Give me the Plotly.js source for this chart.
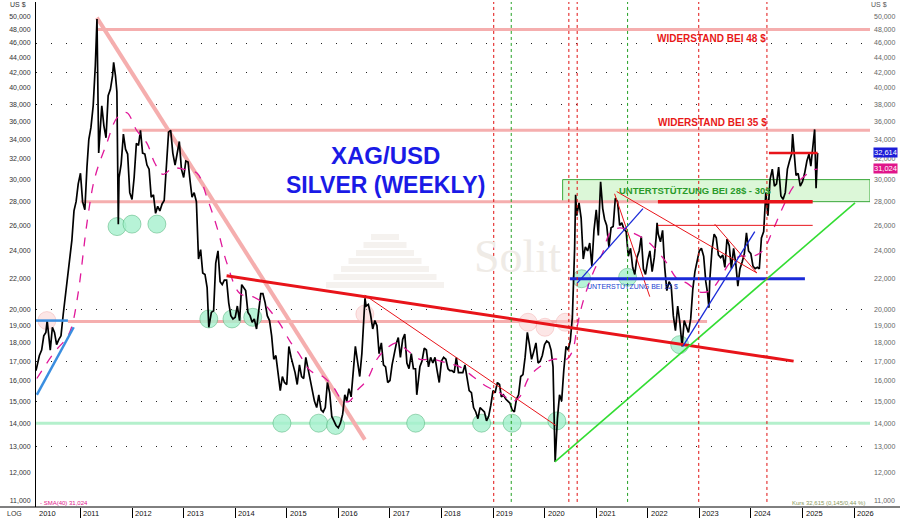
<!DOCTYPE html>
<html><head><meta charset="utf-8">
<script src="https://cdn.plot.ly/plotly-3.0.1.min.js"></script>
<style>html,body{margin:0;padding:0;background:#fff}#chart{width:900px;height:518px}</style>
</head><body><div id="chart"></div>
<script>
// ---- weekly silver price (semi-monthly) ----
const priceDates = [
'2010-02-20','2010-03-01','2010-03-16','2010-04-01','2010-04-16','2010-05-01','2010-05-10','2010-06-01','2010-06-16','2010-07-01','2010-07-16','2010-08-01','2010-08-16','2010-09-01','2010-09-16','2010-10-01','2010-10-16','2010-11-01','2010-11-16','2010-12-01','2010-12-16',
'2011-01-01','2011-01-16','2011-02-01','2011-02-16','2011-03-01','2011-03-16','2011-04-01','2011-04-16','2011-04-28','2011-05-10','2011-05-20','2011-06-01','2011-06-16','2011-07-01','2011-07-16','2011-08-01','2011-08-16','2011-08-24','2011-09-06','2011-09-16','2011-09-26','2011-10-01','2011-10-16','2011-11-01','2011-11-16','2011-12-01','2011-12-16',
'2012-01-01','2012-01-16','2012-02-01','2012-02-16','2012-03-01','2012-03-16','2012-04-01','2012-04-16','2012-05-01','2012-05-16','2012-06-01','2012-06-16','2012-07-01','2012-07-16','2012-08-01','2012-08-16','2012-09-01','2012-09-16','2012-10-01','2012-10-16','2012-11-01','2012-11-16','2012-12-01','2012-12-16',
'2013-01-01','2013-01-16','2013-02-01','2013-02-16','2013-03-01','2013-03-16','2013-04-01','2013-04-16','2013-05-01','2013-05-16','2013-06-01','2013-06-16','2013-06-28','2013-07-16','2013-08-01','2013-08-16','2013-09-01','2013-09-16','2013-10-01','2013-10-16','2013-11-01','2013-11-16','2013-12-01','2013-12-16',
'2014-01-01','2014-01-16','2014-02-01','2014-02-16','2014-03-01','2014-03-16','2014-04-01','2014-04-16','2014-05-01','2014-05-16','2014-06-01','2014-06-16','2014-07-01','2014-07-16','2014-08-01','2014-08-16','2014-09-01','2014-09-16','2014-10-01','2014-10-16','2014-11-01','2014-11-16','2014-12-01','2014-12-16',
'2015-01-01','2015-01-16','2015-02-01','2015-02-16','2015-03-01','2015-03-16','2015-04-01','2015-04-16','2015-05-01','2015-05-16','2015-06-01','2015-06-16','2015-07-01','2015-07-16','2015-08-01','2015-08-16','2015-09-01','2015-09-16','2015-10-01','2015-10-16','2015-11-01','2015-11-16','2015-12-01','2015-12-16',
'2016-01-01','2016-01-16','2016-02-01','2016-02-16','2016-03-01','2016-03-16','2016-04-01','2016-04-16','2016-05-01','2016-05-16','2016-06-01','2016-06-16','2016-07-01','2016-07-08','2016-07-16','2016-08-01','2016-08-16','2016-09-01','2016-09-16','2016-10-01','2016-10-16','2016-11-01','2016-11-16','2016-12-01','2016-12-16',
'2017-01-01','2017-01-16','2017-02-01','2017-02-16','2017-03-01','2017-03-16','2017-04-01','2017-04-16','2017-05-01','2017-05-16','2017-06-01','2017-06-16','2017-07-01','2017-07-10','2017-08-01','2017-08-16','2017-09-01','2017-09-16','2017-10-01','2017-10-16','2017-11-01','2017-11-16','2017-12-01','2017-12-16',
'2018-01-01','2018-01-16','2018-02-01','2018-02-16','2018-03-01','2018-03-16','2018-04-01','2018-04-16','2018-05-01','2018-05-16','2018-06-01','2018-06-16','2018-07-01','2018-07-16','2018-08-01','2018-08-16','2018-09-01','2018-09-16','2018-10-01','2018-10-16','2018-11-01','2018-11-16','2018-12-01','2018-12-16',
'2019-01-01','2019-01-16','2019-02-01','2019-02-16','2019-03-01','2019-03-16','2019-04-01','2019-04-16','2019-05-01','2019-05-16','2019-06-01','2019-06-16','2019-07-01','2019-07-16','2019-08-01','2019-08-16','2019-09-01','2019-09-16','2019-10-01','2019-10-16','2019-11-01','2019-11-16','2019-12-01','2019-12-16',
'2020-01-01','2020-01-16','2020-02-01','2020-02-16','2020-03-01','2020-03-16','2020-04-01','2020-04-16','2020-05-01','2020-05-16','2020-06-01','2020-06-16','2020-07-01','2020-07-16','2020-08-01','2020-08-08','2020-08-16','2020-09-01','2020-09-16','2020-10-01','2020-10-16','2020-11-01','2020-11-16','2020-12-01','2020-12-16',
'2021-01-01','2021-01-16','2021-02-01','2021-02-16','2021-03-01','2021-03-16','2021-04-01','2021-04-16','2021-05-01','2021-05-16','2021-06-01','2021-06-16','2021-07-01','2021-07-16','2021-08-01','2021-08-16','2021-09-01','2021-09-16','2021-10-01','2021-10-16','2021-11-01','2021-11-16','2021-12-01','2021-12-16',
'2022-01-01','2022-01-16','2022-02-01','2022-02-16','2022-03-01','2022-03-08','2022-03-16','2022-04-01','2022-04-16','2022-05-01','2022-05-16','2022-06-01','2022-06-16','2022-07-01','2022-07-16','2022-08-01','2022-08-16','2022-09-01','2022-09-16','2022-10-01','2022-10-16','2022-11-01','2022-11-16','2022-12-01','2022-12-16',
'2023-01-01','2023-01-16','2023-02-01','2023-02-16','2023-03-01','2023-03-10','2023-03-16','2023-04-01','2023-04-16','2023-05-01','2023-05-16','2023-06-01','2023-06-16','2023-07-01','2023-07-16','2023-08-01','2023-08-16','2023-09-01','2023-09-16','2023-10-01','2023-10-16','2023-11-01','2023-11-16','2023-12-01','2023-12-16',
'2024-01-01','2024-01-16','2024-02-01','2024-02-16','2024-03-01','2024-03-16','2024-04-01','2024-04-16','2024-05-01','2024-05-16','2024-06-01','2024-06-16','2024-07-01','2024-07-16','2024-08-01','2024-08-16','2024-09-01','2024-09-16','2024-10-01','2024-10-16','2024-10-23','2024-11-01','2024-11-16','2024-12-01','2024-12-16',
'2025-01-01','2025-01-16','2025-02-01','2025-02-16','2025-03-01','2025-03-16','2025-03-28','2025-04-07','2025-04-18'
];
const priceValues = [
16.5,16.8,17.3,17.6,18.4,18.6,19.3,17.6,18.9,18.6,17.9,18.2,18.4,19.7,20.8,22.0,23.5,24.8,27.2,28.0,29.6,
30.6,28.0,27.3,31.2,34.0,35.3,37.8,42.8,49.6,32.6,35.2,37.8,35.5,34.2,39.0,39.8,41.5,43.3,41.5,39.5,26.1,30.2,31.5,34.6,33.0,32.5,28.8,
28.2,30.2,33.6,33.4,35.0,32.6,32.5,31.4,31.0,28.4,28.6,27.0,27.6,27.2,27.8,28.1,31.6,34.8,35.0,32.6,31.4,32.8,33.8,31.0,
30.2,31.8,31.7,29.8,28.4,28.8,28.0,23.4,24.1,22.4,22.3,21.4,18.9,19.8,19.9,23.1,24.0,21.8,21.6,21.9,21.9,20.4,19.6,19.4,
19.5,20.2,19.3,21.6,21.4,21.2,19.8,19.6,19.2,19.4,18.8,19.8,21.0,21.0,20.4,19.6,19.3,18.4,17.1,17.3,16.2,15.5,16.2,15.9,
15.8,17.8,17.2,16.8,16.4,15.8,16.8,16.2,16.1,17.2,16.6,16.0,15.6,15.0,14.7,15.3,14.6,14.5,14.7,15.9,15.4,14.3,14.1,13.9,
13.8,14.0,14.4,15.3,15.0,15.6,15.2,16.3,17.8,17.0,16.2,17.4,19.3,20.7,20.2,20.3,19.7,18.8,19.3,19.0,17.4,18.0,16.8,16.7,15.9,
16.0,16.8,17.5,18.0,18.3,17.2,18.2,18.5,16.9,16.6,17.4,16.6,16.6,15.3,16.7,17.0,17.7,17.6,16.7,17.2,16.9,17.2,16.5,15.9,
17.0,17.2,17.1,16.6,16.5,16.5,16.4,17.2,16.4,16.4,16.4,16.8,16.0,15.5,15.4,14.7,14.5,14.2,14.7,14.6,14.5,14.1,14.3,14.8,
15.5,15.4,15.9,15.8,15.2,15.3,15.1,15.0,14.9,14.6,14.5,15.1,15.3,16.2,16.3,17.2,18.6,17.9,17.1,17.5,18.0,16.9,17.0,17.3,
17.9,18.1,18.0,17.6,16.7,12.4,14.2,15.3,15.0,16.5,17.8,17.6,18.1,19.5,24.2,28.6,26.8,27.9,26.6,23.4,24.3,24.0,24.6,22.9,25.6,
27.3,25.2,29.8,27.4,26.5,26.0,24.3,25.8,25.9,28.3,28.0,26.0,26.2,25.7,25.5,23.6,24.2,22.8,22.3,23.5,24.0,25.1,22.7,22.3,
23.3,24.0,22.5,23.5,25.0,26.2,25.3,24.7,25.6,22.8,21.2,21.8,21.5,19.6,18.7,20.2,19.2,17.8,19.3,19.0,18.6,19.4,21.3,22.5,23.2,
24.0,24.2,23.6,21.8,21.0,20.1,21.9,24.1,25.3,25.0,23.7,23.5,23.7,22.8,24.9,24.4,22.7,24.2,23.1,21.5,22.7,23.2,23.8,25.4,24.0,
23.8,22.9,22.7,22.8,22.7,25.0,25.5,28.8,26.8,30.0,31.0,29.4,29.6,31.2,28.5,28.2,28.8,31.0,31.8,32.5,34.6,32.6,30.4,30.6,29.4,
29.8,30.6,31.8,32.5,31.3,33.8,35.1,29.2,32.6
];
// ---- 40-week moving average (magenta dashed) ----
const smaDates = ['2010-02-26','2010-07-02','2010-09-27','2010-10-30','2010-12-15','2011-02-21','2011-04-13','2011-07-06','2011-09-17','2011-11-24','2012-02-03','2012-04-16','2012-06-10','2012-08-07','2012-10-16','2012-12-28','2013-04-06','2013-06-14','2013-08-26','2013-11-03','2014-02-03','2014-05-05','2014-07-17','2014-09-24','2014-11-14','2015-01-23','2015-04-06','2015-05-23','2015-07-06','2015-09-13','2015-11-25','2016-02-03','2016-03-22','2016-05-12','2016-07-20','2016-10-01','2016-12-09','2017-02-21','2017-05-01','2017-07-31','2017-10-30','2018-02-09','2018-05-12','2018-08-11','2018-11-17','2019-02-17','2019-05-23','2019-07-09','2019-09-16','2019-11-28','2020-02-28','2020-06-06','2020-07-19','2020-08-18','2020-09-27','2020-12-09','2021-02-17','2021-04-09','2021-06-18','2021-09-17','2021-12-24','2022-03-08','2022-05-16','2022-07-28','2022-10-05','2023-01-04','2023-03-18','2023-05-27','2023-08-04','2023-10-16','2024-01-15','2024-03-24','2024-06-05','2024-08-14','2024-10-26','2025-01-04','2025-03-14','2025-04-18'];
const smaValues = [16.1,17.5,18.3,18.9,21.0,26.6,30.2,33.6,36.4,37.0,35.0,33.6,31.6,30.5,31.1,31.0,30.6,28.4,25.8,23.1,21.0,20.8,20.4,19.7,19.1,18.1,17.3,16.7,16.4,16.2,15.7,15.0,15.0,15.5,16.0,17.1,17.7,18.0,17.6,17.1,17.1,16.9,16.7,16.2,15.7,15.4,15.0,15.2,16.2,16.7,17.1,17.1,17.6,18.9,20.4,22.4,23.9,25.4,25.8,25.4,24.8,24.0,23.1,22.0,21.7,21.1,21.2,22.0,23.1,23.6,23.6,24.0,25.6,27.5,29.3,30.2,30.9,31.0];

// ---- horizontal levels ----
const resistance48 = [['2011-05-01',48],['2026-04-24',48]];
const resistance35 = [['2011-10-25',35],['2026-04-24',35]];
const pinkLevel28 = [['2011-01-01',28],['2022-03-14',28]];
const pinkLevel1925 = [['2010-10-04',19.25],['2023-02-25',19.25]];
const support14 = [['2010-02-20',14],['2026-04-24',14]];
const supportZone = [['2020-05-08',28],['2026-04-24',28],['2026-04-24',30],['2020-05-08',30],['2020-05-08',28]];
const redLevel28 = [['2022-03-14',28],['2025-03-14',28]];
const redLevel26 = [['2022-03-14',26],['2025-03-14',26]];
const redLevel326 = [['2024-05-08',32.6],['2025-04-18',32.6]];
const blueLevel22 = [['2020-06-28',22],['2025-01-18',22]];
const blueLevel2010 = [['2010-02-20',19.3],['2010-10-04',19.3]];
// ---- trend lines ----
const pinkDownTrend = [['2011-04-27',49.8],['2016-07-07',13.3]];
const redMainTrend = [['2013-11-01',22.2],['2024-10-30',17.0]];
const redTrend2016 = [['2016-07-07',20.9],['2020-03-21',13.9]];
const redTrend2021 = [['2021-05-26',28.9],['2024-02-13',22.4]];
const redSteep2021 = [['2021-05-11',28.7],['2022-01-15',20.8]];
const redTrend2023 = [['2023-04-20',26.1],['2024-02-13',22.4]];
const blueTrend2020 = [['2020-08-19',21.7],['2021-11-28',27.4]];
const blueTrend2022 = [['2022-09-06',17.8],['2024-01-29',25.5]];
const blueTrend2010 = [['2010-02-26',15.3],['2010-11-14',18.9]];
const greenUpTrend = [['2020-03-14',12.4],['2026-01-08',27.9]];
// ---- marked lows ----
const greenCircleDates = ['2011-09-17','2012-01-01','2012-06-25','2013-06-28','2013-12-09','2014-05-05','2014-11-28','2015-08-15','2015-12-13','2017-07-02','2018-10-12','2019-05-16','2020-03-28','2020-09-20','2021-08-11','2022-08-15'];
const greenCircleLevels = [25.9,26.1,26.1,19.4,19.4,19.5,14.0,14.0,13.9,14.0,14.0,14.0,14.1,22.0,22.1,17.9];
const pinkCircleDates = ['2010-05-08','2016-07-07','2019-09-06','2020-01-04','2020-05-26'];
const pinkCircleLevels = [19.3,19.7,19.2,18.9,19.2];
// ---- event markers (vertical dotted) ----
const redEventDates = ['2019-01-06','2020-06-21','2020-08-19','2022-12-28','2024-04-24'];
const greenEventDates = ['2019-05-10','2021-08-11'];
// ---- axes ----
const yTickValues = [11,12,13,14,15,16,17,18,19,20,22,24,26,28,30,32,34,36,38,40,42,44,46,48,50];
const yTickText = yTickValues.map(v => v + ',000');
const gridLevels = [13,15,17,20,38,42,46];
const yearTicks = ['2011-01-01','2012-01-01','2013-01-01','2014-01-01','2015-01-01','2016-01-01','2017-01-01','2018-01-01','2019-01-01','2020-01-01','2021-01-01','2022-01-01','2023-01-01','2024-01-01','2025-01-01','2026-01-01'];
const yearLabelPos = ['2010-02-20'].concat(yearTicks);
const yearLabels = ['2010','2011','2012','2013','2014','2015','2016','2017','2018','2019','2020','2021','2022','2023','2024','2025','2026'];
const lastPrice = 32.614, lastSma = 31.024;

const xRange = ['2010-02-20','2026-04-24'];
const yRange = [Math.log10(10.77), Math.log10(52.3)];

function seg(pts, color, width, dash) {
  return {x: pts.map(p => p[0]), y: pts.map(p => p[1]), type: 'scatter', mode: 'lines',
    line: {color: color, width: width, dash: dash || 'solid'}, hoverinfo: 'skip'};
}
const PINK = '#f5aeae', RED = '#e8141a', BLUE = '#1a2ad8';

const traces = [];
const zone = seg(supportZone, '#3aa83a', 1);
zone.fill = 'toself'; zone.fillcolor = '#dcf7d8';
traces.push(zone);
traces.push(seg(support14, '#b4f0cc', 3));
traces.push(seg(resistance48, PINK, 3));
traces.push(seg(resistance35, PINK, 3));
traces.push(seg(pinkLevel28, PINK, 3));
traces.push(seg(pinkLevel1925, PINK, 3));
traces.push(seg(pinkDownTrend, PINK, 4));
traces.push({x: greenCircleDates, y: greenCircleLevels, type: 'scatter', mode: 'markers',
  marker: {size: 18, color: 'rgba(165,240,205,0.8)', line: {color: 'rgba(70,170,110,0.6)', width: 0.8}}, hoverinfo: 'skip'});
traces.push({x: pinkCircleDates, y: pinkCircleLevels, type: 'scatter', mode: 'markers',
  marker: {size: 18, color: 'rgba(250,205,205,0.5)', line: {color: 'rgba(240,160,160,0.5)', width: 0.8}}, hoverinfo: 'skip'});
traces.push({x: priceDates, y: priceValues, type: 'scatter', mode: 'lines', line: {color: '#000', width: 1.7}, hoverinfo: 'skip'});
traces.push({x: smaDates, y: smaValues, type: 'scatter', mode: 'lines', line: {color: '#e0189a', width: 1.3, dash: 'dash', shape: 'spline'}, hoverinfo: 'skip'});
traces.push(seg(blueLevel2010, '#3a8ee0', 2.5));
traces.push(seg(blueTrend2010, '#3a8ee0', 2.5));
traces.push(seg(redMainTrend, RED, 3));
traces.push(seg(redTrend2016, RED, 1));
traces.push(seg(redTrend2021, RED, 1));
traces.push(seg(redSteep2021, RED, 1));
traces.push(seg(redTrend2023, RED, 1));
traces.push(seg(redLevel26, RED, 1));
traces.push(seg(redLevel28, RED, 3.5));
traces.push(seg(redLevel326, RED, 2.5));
traces.push(seg(blueLevel22, BLUE, 3));
traces.push(seg(blueTrend2020, BLUE, 1.3));
traces.push(seg(blueTrend2022, BLUE, 1.3));
traces.push(seg(greenUpTrend, '#33dd33', 1.6));
traces.push({x: [xRange[0]], y: [20], yaxis: 'y3', type: 'scatter', mode: 'markers', marker: {opacity: 0}, hoverinfo: 'skip'});
traces.push({x: [xRange[0]], y: [20], yaxis: 'y2', type: 'scatter', mode: 'markers', marker: {opacity: 0}, hoverinfo: 'skip'});

const shapes = [];
redEventDates.forEach(d => shapes.push({type: 'line', xref: 'x', yref: 'paper', x0: d, x1: d, y0: 0.01, y1: 1,
  line: {color: '#e01010', width: 1, dash: 'dot'}, layer: 'above'}));
greenEventDates.forEach(d => shapes.push({type: 'line', xref: 'x', yref: 'paper', x0: d, x1: d, y0: 0.01, y1: 1,
  line: {color: '#22a022', width: 1, dash: 'dot'}, layer: 'above'}));
shapes.push({type: 'line', xref: 'paper', yref: 'paper', x0: -0.05, x1: 1.05, y0: 0, y1: 0, line: {color: '#000', width: 1}});
const W = 834, H = 505, BOT = 507;
for (let i = 0; i < 7; i++) {
  const top = 234 + i * 8, half = 14 + i * 7.5;
  shapes.push({type: 'rect', xref: 'paper', yref: 'paper', layer: 'below',
    x0: (385 - half - 36) / W, x1: (385 + half - 36) / W, y0: (BOT - top - 6) / H, y1: (BOT - top) / H,
    fillcolor: '#f5f2ef', line: {width: 0}});
}

function px(x) { return (x - 36) / W; }
function py(y) { return (BOT - y) / H; }
const annotations = [];
yearLabels.forEach((t, i) => annotations.push({xref: 'x', yref: 'paper', x: yearLabelPos[i], y: 0, xanchor: 'left', yanchor: 'top',
  text: t, showarrow: false, xshift: 1, yshift: 0, font: {size: 7.5, color: '#111', family: 'Liberation Sans, Arial'}}));
const txt = (x, y, text, size, color, xa, extra) => Object.assign({xref: 'paper', yref: 'paper', x: px(x), y: py(y),
  text: text, showarrow: false, xanchor: xa || 'left', yanchor: 'middle', font: {size: size, color: color, family: 'Liberation Sans, Arial'}}, extra || {});
annotations.push(txt(385, 155, '<b>XAG/USD</b>', 24, '#1a1ae6', 'center'));
annotations.push(txt(385, 185, '<b>SILVER (WEEKLY)</b>', 23, '#1a1ae6', 'center'));
annotations.push(txt(655, 39, '<b>WIDERSTAND BEI 48 $</b>', 10, '#e81818'));
annotations.push(txt(656, 122, '<b>WIDERSTAND BEI 35 $</b>', 10, '#e81818'));
annotations.push(txt(617, 190, '<b>UNTERTSTÜTZUNG BEI 28$ - 30$</b>', 9.5, '#2a9a2a'));
annotations.push(txt(585, 286, 'UNTERSTÜTZUNG BEI 22 $', 7, '#2040d0'));
annotations.push(txt(472, 256, 'Solit', 46, '#efebe6', 'left', {font: {size: 46, color: '#efebe6', family: 'Liberation Serif, DejaVu Serif'}}));
annotations.push(txt(790, 503, 'Kurs 32,615 (0,145/0,44 %)', 6, '#8a9a60'));
annotations.push(txt(38, 503, '- SMA(40) 31,024', 6, '#e0158a'));
annotations.push(txt(18, 4, 'US $', 7, '#333', 'center'));
annotations.push(txt(879, 4, 'US $', 7, '#555', 'center'));
annotations.push(txt(14, 513, 'LOG', 7, '#333', 'center'));
annotations.push({xref: 'paper', yref: 'y', x: 1, y: Math.log10(lastPrice), xanchor: 'left', yanchor: 'middle', xshift: 3,
  text: lastPrice.toFixed(3).replace('.', ','), showarrow: false, bgcolor: '#1c1cd8', borderpad: 0,
  font: {size: 7.5, color: '#fff', family: 'Liberation Sans, Arial'}});
annotations.push({xref: 'paper', yref: 'y', x: 1, y: Math.log10(lastSma), xanchor: 'left', yanchor: 'middle', xshift: 3,
  text: lastSma.toFixed(3).replace('.', ','), showarrow: false, bgcolor: '#e0158a', borderpad: 0,
  font: {size: 7.5, color: '#fff', family: 'Liberation Sans, Arial'}});

const yBase = {type: 'log', range: yRange, fixedrange: true, zeroline: false, showgrid: false,
  tickvals: yTickValues, ticktext: yTickText, ticks: '', tickfont: {size: 7, color: '#333', family: 'Liberation Sans, Arial'}};
const layout = {
  width: 900, height: 518,
  margin: {l: 36, r: 30, t: 2, b: 11},
  paper_bgcolor: '#fff', plot_bgcolor: '#fff', showlegend: false,
  font: {family: 'Liberation Sans, Arial'},
  xaxis: {type: 'date', range: xRange, fixedrange: true, showgrid: false, zeroline: false,
    tickvals: yearTicks, showticklabels: false, ticks: 'outside', ticklen: 10, tickcolor: '#000', tickwidth: 1,
    showline: false},
  yaxis: Object.assign({}, yBase, {side: 'left', showline: true, linecolor: '#000', linewidth: 1, ticklabelstandoff: 3}),
  yaxis2: Object.assign({}, yBase, {overlaying: 'y', side: 'right', showline: false, ticklabelstandoff: 3,
    tickfont: {size: 7, color: '#666', family: 'Liberation Sans, Arial'}}),
  yaxis3: {type: 'log', range: yRange, overlaying: 'y', side: 'left', fixedrange: true, tickvals: gridLevels,
    showticklabels: false, ticks: '', showgrid: true, gridcolor: '#222', gridwidth: 1, griddash: '1px,14px', zeroline: false, showline: false},
  shapes: shapes, annotations: annotations
};
Plotly.newPlot('chart', traces, layout, {staticPlot: true, displayModeBar: false});
</script></body></html>
